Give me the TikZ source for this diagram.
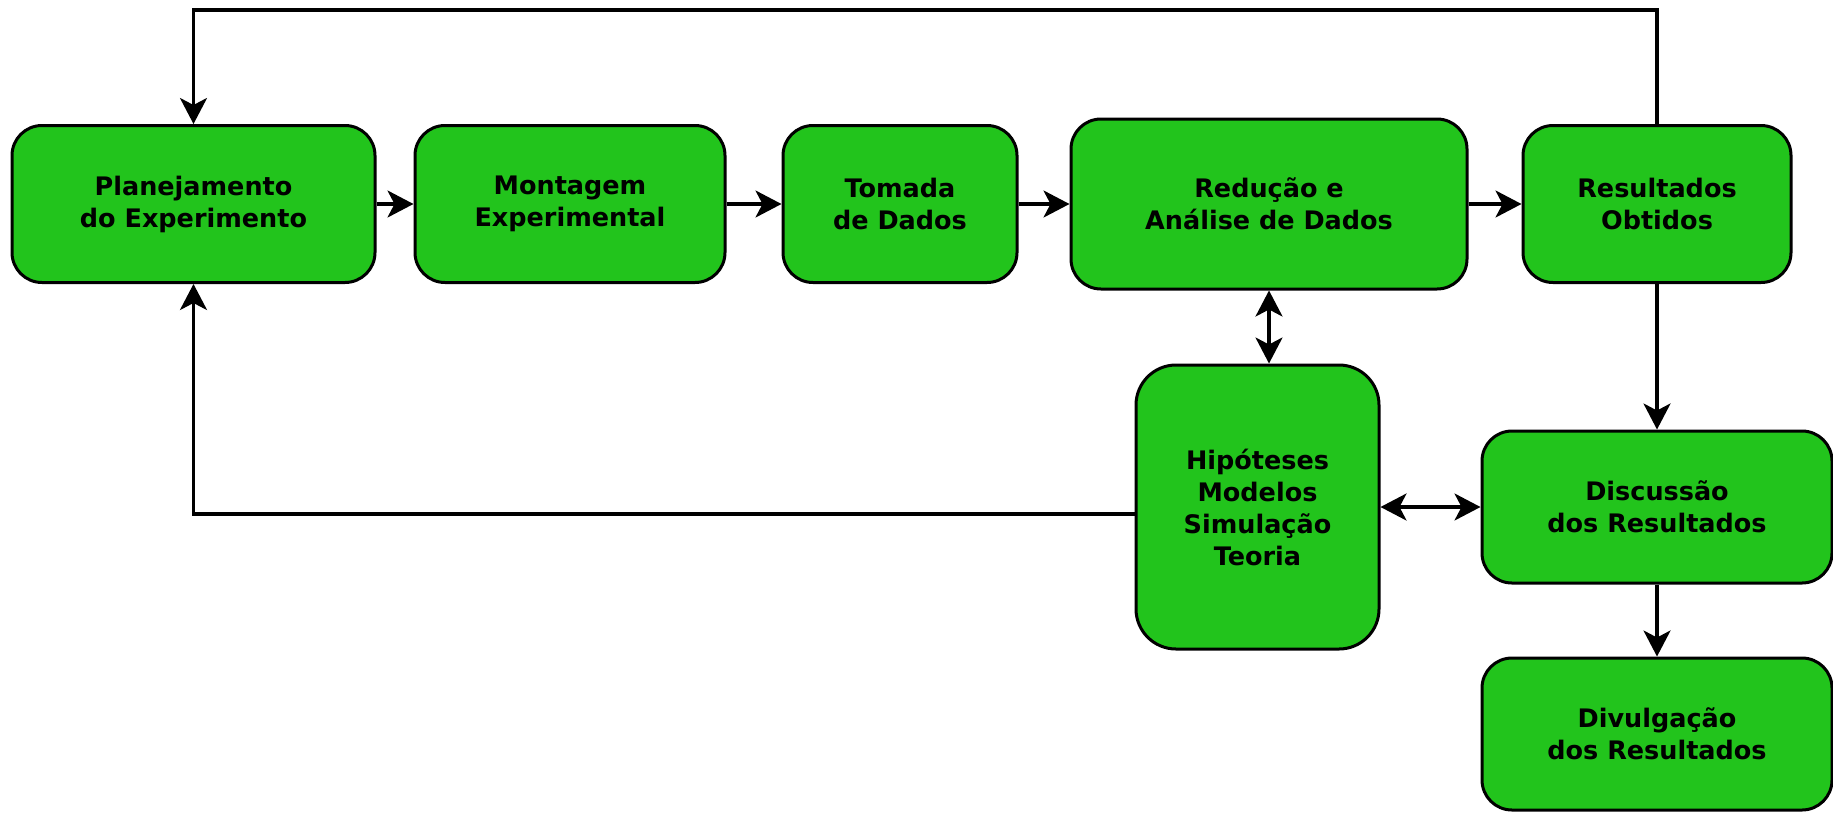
\documentclass[tikz,border=0pt]{standalone}
\usepackage{fontspec}
\setmainfont{DejaVu Sans}
\usepackage{tikz}
\usetikzlibrary{arrows.meta}
\definecolor{boxgreen}{RGB}{34,196,28}
\tikzset{
  etapa/.style={draw=black, line width=3pt, fill=boxgreen, rounded corners=30pt,
    align=center, inner sep=0pt, font=\fontsize{25.5}{32}\selectfont\bfseries},
  fluxo/.style={draw=black, line width=3.2pt, -{Stealth[length=26pt, width=27pt, inset=7pt]}},
  fluxo2/.style={fluxo, {Stealth[length=26pt, width=27pt, inset=7pt]}-{Stealth[length=26pt, width=27pt, inset=7pt]}}
}
\begin{document}
\begin{tikzpicture}[x=1pt, y=-1pt]
    \useasboundingbox (0, 0) rectangle (1833, 812);

    \node [etapa, minimum width=363pt, minimum height=157pt] (plan) at (193.5, 204) {Planejamento\\do Experimento};
    \node [etapa, minimum width=310pt, minimum height=157pt] (mont) at (570, 204) {Montagem\\Experimental};
    \node [etapa, minimum width=234pt, minimum height=157pt] (toma) at (900, 204) {Tomada\\de Dados};
    \node [etapa, minimum width=396pt, minimum height=170pt] (redu) at (1269, 204) {Redução e\\Análise de Dados};
    \node [etapa, minimum width=268pt, minimum height=157pt] (resu) at (1657, 204) {Resultados\\Obtidos};
    \node [etapa, minimum width=243pt, minimum height=284pt, rounded corners=40pt] (hipo) at (1257.5, 507) {Hipóteses\\Modelos\\Simulação\\Teoria};
    \node [etapa, minimum width=350pt, minimum height=152pt] (disc) at (1657, 507) {Discussão\\dos Resultados};
    \node [etapa, minimum width=350pt, minimum height=152pt] (divu) at (1657, 734) {Divulgação\\dos Resultados};
    \coordinate (topo) at (900, 10);

    \draw [fluxo] (plan) -- (mont);
    \draw [fluxo] (mont) -- (toma);
    \draw [fluxo] (toma) -- (redu);
    \draw [fluxo] (redu) -- (resu);
    \draw [fluxo] (resu) -- (disc);
    \draw [fluxo] (disc) -- (divu);
    \draw [fluxo2] (redu.south) -- (redu.south |- hipo.north);
    \draw [fluxo2] (hipo) -- (disc);

    % voltas para o planejamento
    \draw [fluxo] (resu.north) |- (topo) -| (plan.north);
    \draw [fluxo] ([yshift=-7pt]hipo.west) -| (plan.south);
  \end{tikzpicture}
\end{document}
